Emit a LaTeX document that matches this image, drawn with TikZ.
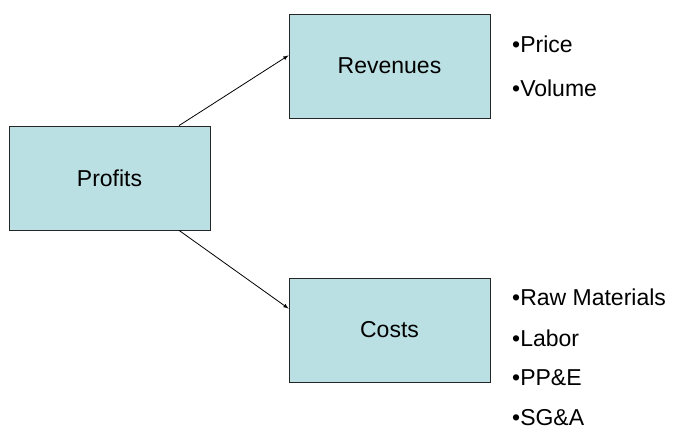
\documentclass[tikz,border=0pt]{standalone}
\usepackage{fontspec}
\setmainfont{Liberation Sans}
\usetikzlibrary{arrows,positioning}
\definecolor{boxfill}{RGB}{187,224,227}

\begin{document}
\begin{tikzpicture}[
    x=1pt, y=-1pt,
    every node/.style={
        font=\fontsize{23}{27}\selectfont
    },
    block/.style={
        rectangle, draw=black!85, fill=boxfill,
        line width=0.9pt,
        minimum width=201pt, minimum height=104pt,
        inner sep=0pt
    },
    item/.style={anchor=west, inner sep=0pt},
    link/.style={-latex, line width=0.8pt}
]
\useasboundingbox (0,0) rectangle (673,438);
\node[block] (profits) at (109.5,178) {Profits};
\node[block] (revenues) at (389.5,66) {Revenues};
\node[block] (costs) at (389.5,330) {Costs};
\draw[link] (profits.37) -- (revenues.174);
\draw[link] (profits.-37) -- (costs.168);
% bullet lists
\node[item] (price) at (512,44) {•Price};
\node[item] (volume) at (512,88) {•Volume};
\node[item] (raw) at (512,297) {•Raw Materials};
\node[item] (labor) at (512,338) {•Labor};
\node[item] (ppe) at (512,378) {•PP\&E};
\node[item] (sga) at (512,418) {•SG\&A};
\end{tikzpicture}
\end{document}
